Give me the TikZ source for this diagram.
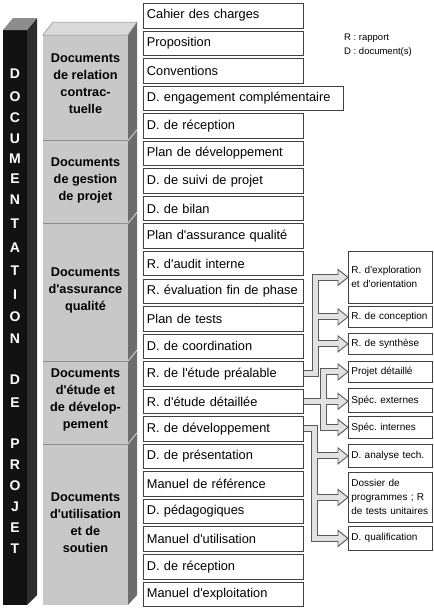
\documentclass[tikz,border=0pt]{standalone}
\usepackage{fontspec}
\setmainfont{Liberation Sans}[Ligatures=TeXOff]
\definecolor{pfront}{HTML}{121212}
\definecolor{pside}{HTML}{2E2E2E}
\definecolor{ptop}{HTML}{8C8C8C}
\definecolor{gfront}{HTML}{C8C8C8}
\definecolor{gside}{HTML}{6C6C6C}
\definecolor{gtop}{HTML}{DADADA}
\definecolor{shaftout}{HTML}{5A5A5A}
\definecolor{shaftin}{HTML}{E2E2E2}
\begin{document}
\frenchspacing
\begin{tikzpicture}[x=1pt,y=-1pt,
  rowbox/.style={draw=black!75, line width=0.8pt, fill=white, anchor=north west,
    minimum height=24.5pt, inner ysep=0pt, inner xsep=3.5pt, text width=153pt,
    align=left, font=\fontsize{12.8}{15}\selectfont},
  outbox/.style={draw=black!75, line width=0.8pt, fill=white, anchor=north west,
    inner ysep=0pt, inner xsep=3pt, text width=78pt, align=left,
    font=\fontsize{10}{14}\selectfont},
  grp/.style={align=center, inner sep=0pt, font=\bfseries\fontsize{12.7}{17}\selectfont},
  letter/.style={text=white, inner sep=0pt, font=\bfseries\fontsize{14}{14}\selectfont},
  legend/.style={anchor=west, inner sep=0pt, font=\fontsize{9.5}{11}\selectfont},
  headtip/.style={fill=shaftin, draw=shaftout, line width=0.9pt, line join=miter}
]
\useasboundingbox (0,0) rectangle (434,611);

% black pillar
\fill[pfront] (3,30) rectangle (27,605);
\fill[pside] (27,30) -- (37,18) -- (37,595) -- (27,605) -- cycle;
\fill[ptop] (3,30) -- (13,18) -- (37,18) -- (27,30) -- cycle;

% gray column
\fill[gfront] (43,35) rectangle (128,605);
\fill[gside] (128,35) -- (137,22) -- (137,595) -- (128,605) -- cycle;
\filldraw[fill=gtop, draw=black!45, line width=0.5pt] (43,35) -- (53,22) -- (137,22) -- (128,35) -- cycle;
\foreach \yb in {140.75, 223.4, 361.15, 443.8} {
  \draw[black!45, line width=0.6pt] (43,\yb) -- (128,\yb);
  \draw[white!75!gray, line width=0.8pt] (128,\yb) -- (137,\yb-11);
}

% pillar letters
\foreach \ch/\yy [count=\k] in {D/74, O/97, C/118, U/139, M/159, E/179, N/200, T/224, A/248, T/271, I/295, O/317, N/339, D/380, E/403, P/444, R/465, O/486, J/507, E/528, T/549}
  \node[letter] (l\k) at (15,\yy) {\ch};

% group labels
\node[grp] (g1) at (85.5,84) {Documents\\de relation\\contrac-\\tuelle};
\node[grp] (g2) at (85.5,180) {Documents\\de gestion\\de projet};
\node[grp] (g3) at (85.5,290) {Documents\\d'assurance\\qualité};
\node[grp] (g4) at (85.5,400) {Documents\\d'étude et\\de dévelop-\\pement};
\node[grp] (g5) at (85.5,523) {Documents\\d'utilisation\\et de\\soutien};

% rows
\foreach \i/\t in {0/Cahier des charges, 1/Proposition, 2/Conventions,
  4/D. de réception, 5/Plan de développement, 6/D. de suivi de projet,
  7/D. de bilan, 8/Plan d'assurance qualité, 9/R. d'audit interne,
  10/R. évaluation fin de phase, 11/Plan de tests, 12/D. de coordination,
  13/R. de l'étude préalable, 14/R. d'étude détaillée, 15/R. de développement,
  16/D. de présentation, 17/Manuel de référence, 18/D. pédagogiques,
  19/Manuel d'utilisation, 20/D. de réception, 21/Manuel d'exploitation}
  \node[rowbox] (r\i) at (143,{3+27.55*\i}) {\t};
\node[rowbox, text width=193pt] (r3) at (143,{3+27.55*3}) {D. engagement complémentaire};

% legend
\node[legend] (lg1) at (344,38) {R : rapport};
\node[legend] (lg2) at (344,52) {D : document(s)};

% output boxes
\node[outbox, minimum height=52pt] (o1) at (348,251) {R. d'exploration\\et d'orientation};
\node[outbox, minimum height=21pt] (o2) at (348,306) {R. de conception};
\node[outbox, minimum height=21pt] (o3) at (348,333) {R. de synthèse};
\node[outbox, minimum height=21pt] (o4) at (348,361) {Projet détaillé};
\node[outbox, minimum height=24pt] (o5) at (348,388) {Spéc. externes};
\node[outbox, minimum height=22pt] (o6) at (348,416) {Spéc. internes};
\node[outbox, minimum height=23pt] (o7) at (348,444) {D. analyse tech.};
\node[outbox, minimum height=50pt] (o8) at (348,472) {Dossier de\\programmes ; R\\de tests unitaires};
\node[outbox, minimum height=24pt] (o9) at (348,526) {D. qualification};

% trunk positions
\coordinate (t1) at (315,0);
\coordinate (t2) at (323,0);
\coordinate (t3) at (314,0);

\newcommand\arrowpaths{%
  \draw (r13.east) -- (r13.east -| t1) |- (o1.west);
  \draw (r13.east -| t1) |- (o2.west);
  \draw (r13.east -| t1) |- (o3.west);
  \draw (r14.east -| t2) |- (o4.west);
  \draw (r14.east) -- (r14.east -| o5.west);
  \draw (r14.east -| t2) |- (o6.west);
  \draw (r15.east) -- (r15.east -| t3) |- (o7.west);
  \draw (r15.east -| t3) |- (o8.west);
  \draw (r15.east -| t3) |- (o9.west);
}
\begin{scope}[line width=7pt, color=shaftout, shorten >=9pt]
  \arrowpaths
\end{scope}
\foreach \o in {o1,o2,o3,o4,o6,o7,o8,o9}
  \filldraw[headtip] (\o.west) -- ++(-10,-8) -- ++(0,16) -- cycle;
\filldraw[headtip] (r14.east -| o5.west) -- ++(-10,-8) -- ++(0,16) -- cycle;
\begin{scope}[line width=5pt, color=shaftin, shorten >=8.3pt]
  \arrowpaths
\end{scope}
\end{tikzpicture}
\end{document}
